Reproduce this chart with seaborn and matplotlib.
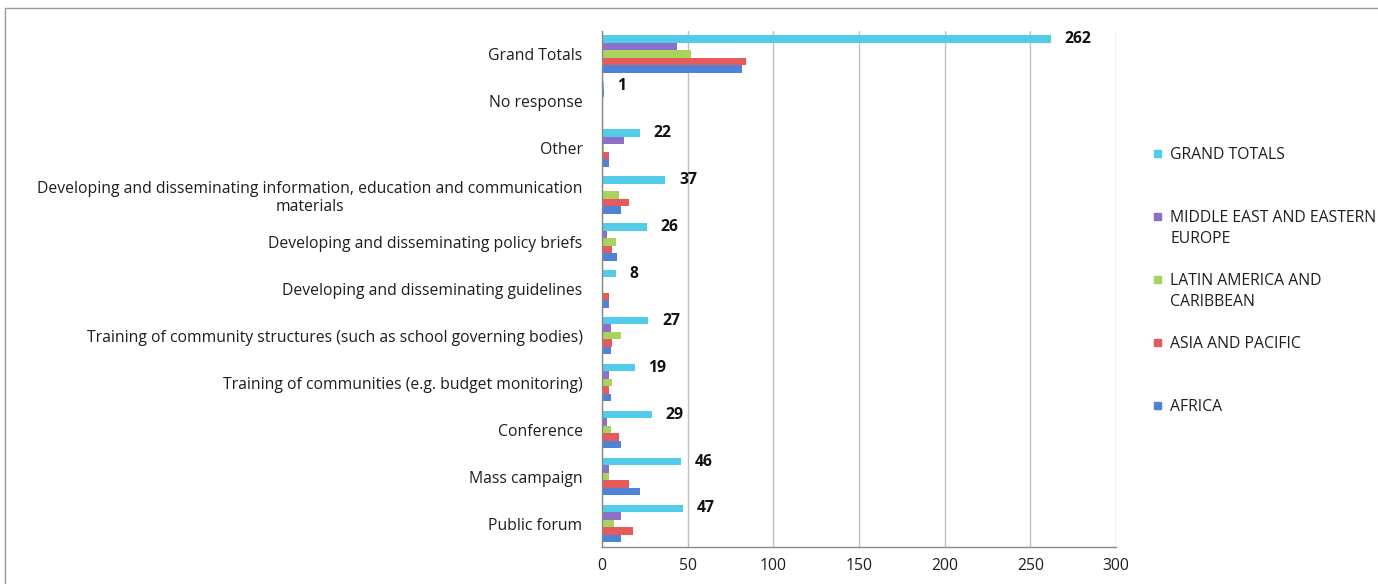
import matplotlib
matplotlib.use("Agg")
import matplotlib.pyplot as plt
import matplotlib.patches as mpatches
import matplotlib.lines as mlines
import seaborn as sns
import pandas as pd

categories = [
    "Grand Totals",
    "No response",
    "Other",
    "Developing and disseminating information, education and communication\nmaterials",
    "Developing and disseminating policy briefs",
    "Developing and disseminating guidelines",
    "Training of community structures (such as school governing bodies)",
    "Training of communities (e.g. budget monitoring)",
    "Conference",
    "Mass campaign",
    "Public forum",
]
series = ["GRAND TOTALS", "MIDDLE EAST AND EASTERN\nEUROPE", "LATIN AMERICA AND\nCARIBBEAN",
          "ASIA AND PACIFIC", "AFRICA"]
grand_totals = [262, 1, 22, 37, 26, 8, 27, 19, 29, 46, 47]
middle_east = [44, 1, 13, 0, 3, 0, 5, 4, 3, 4, 11]
latin_america = [52, 0, 1, 10, 8, 0, 11, 6, 5, 4, 7]
asia_pacific = [84, 0, 4, 16, 6, 4, 6, 4, 10, 16, 18]
africa = [82, 0, 4, 11, 9, 4, 5, 5, 11, 22, 11]
colors = ["#52CCE8", "#8E6FC8", "#A8D35C", "#E65A5C", "#4F83D8"]

values = [grand_totals, middle_east, latin_america, asia_pacific, africa]
rows = []
for s, vals in zip(series, values):
    for c, v in zip(categories, vals):
        rows.append({"category": c, "series": s, "value": v})
df = pd.DataFrame(rows)

sns.set_style("white")
plt.rcParams["font.family"] = ["Open Sans", "DejaVu Sans"]
FS = 11.3
TXT = "#1E1E1E"

W, H = 1378, 584
fig = plt.figure(figsize=(W / 100, H / 100), dpi=100)
ax = fig.add_axes([602 / W, 1 - 547 / H, (1116 - 602) / W, (547 - 30.5) / H])

sns.barplot(data=df, x="value", y="category", hue="series", order=categories,
            hue_order=series, palette=colors, orient="h", width=0.8,
            saturation=1, ax=ax, legend=False, edgecolor="none")

ax.bar_label(ax.containers[0], padding=10, fontweight="bold", fontsize=FS, color="#111111")

ax.set_xlim(0, 300)
ax.set_xticks([0, 50, 100, 150, 200, 250, 300])
ax.set_xlabel("")
ax.set_ylabel("")
ax.xaxis.grid(True, color="#BFBFBF", linewidth=1)
ax.set_axisbelow(True)
ax.tick_params(axis="x", length=0, labelsize=FS, colors=TXT, pad=8)
ax.tick_params(axis="y", which="major", length=0, labelsize=FS, colors=TXT, pad=14)
ax.set_yticks([i + 0.5 for i in range(-1, len(categories))], minor=True)
ax.tick_params(axis="y", which="minor", length=5, color="#888888", direction="out")
for lbl in ax.get_yticklabels():
    lbl.set_multialignment("center")
for side in ["top", "right"]:
    ax.spines[side].set_visible(False)
for side in ["left", "bottom"]:
    ax.spines[side].set_color("#888888")
    ax.spines[side].set_linewidth(1)

# legend entries, evenly spaced, square aligned with first text line
for i, (c, s) in enumerate(zip(colors, series)):
    y_px = 153 + 63 * i
    fig.patches.append(mpatches.Rectangle((1154 / W, 1 - (y_px + 4) / H), 7 / W, 7 / H,
                                          transform=fig.transFigure, color=c))
    fig.text(1170 / W, 1 - (y_px - 6) / H, s, fontsize=FS, color=TXT, va="top", ha="left",
             linespacing=1.45)

# outer frame (top and left visible)
fig.lines.append(mlines.Line2D([5 / W, 1.0], [1 - 8 / H, 1 - 8 / H], transform=fig.transFigure,
                               color="#9A9A9A", linewidth=1))
fig.lines.append(mlines.Line2D([5 / W, 5 / W], [0, 1 - 8 / H], transform=fig.transFigure,
                               color="#9A9A9A", linewidth=1))

fig.savefig("out.png", dpi=100)
